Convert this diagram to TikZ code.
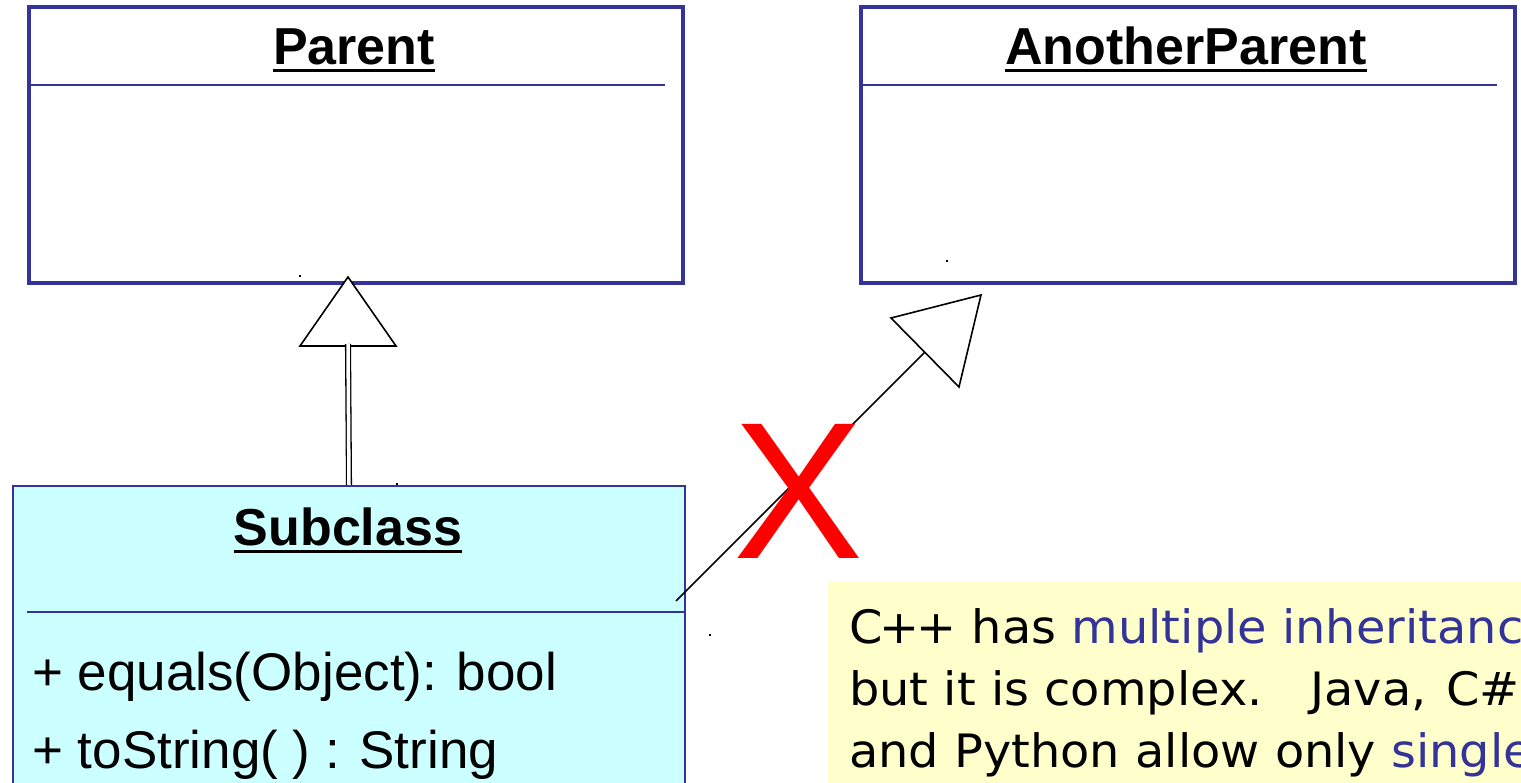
\documentclass[tikz,border=0pt]{standalone}
\usepackage{fontspec}
\setmainfont{Liberation Sans}
\newfontfamily\notefont[FakeStretch=1.04]{DejaVu Sans}
\definecolor{umlblue}{HTML}{333399}
\definecolor{classfill}{HTML}{CCFFFF}
\definecolor{notefill}{HTML}{FFFFCC}
\tikzset{
  classbox/.style={draw=umlblue, line width=3.6pt, inner sep=0pt, anchor=north west},
  subbox/.style={classbox, line width=2pt, fill=classfill},
  divider/.style={draw=umlblue, line width=2.2pt},
  classtitle/.style={font=\fontsize{52}{52}\selectfont\bfseries, inner sep=0pt, anchor=base},
  uline/.style={line width=3pt},
  member/.style={font=\fontsize{53}{53}\selectfont, inner sep=0pt, anchor=base west},
  notebox/.style={fill=notefill, inner sep=0pt, anchor=north west},
  noteline/.style={font=\notefont\fontsize{46}{46}\selectfont, inner sep=0pt, anchor=base west},
  shaft/.style={draw=black, double=white, double distance=3.5pt, line width=1.3pt},
  hollowtip/.style={draw=black, fill=white, line width=1.6pt, line join=miter},
  plainline/.style={draw=black, line width=1.6pt},
  crossmark/.style={text=red, font=\fontsize{195}{195}\selectfont, inner sep=0pt, anchor=base},
  speck/.style={fill=black}
}
\begin{document}
\begin{tikzpicture}[x=1pt, y=-1pt]
\useasboundingbox (0,0) rectangle (1521,783);
\clip (0,0) rectangle (1521,783);

% superclass boxes
\node[classbox, minimum width=654pt, minimum height=276pt] (parent) at (27,5) {};
\draw[divider] ([yshift=-80pt]parent.north west) -- ++(638pt,0);
\node[classtitle] (ptitle) at (354,65) {Parent};
\draw[uline] ([yshift=-6pt]ptitle.base west) -- ([yshift=-6pt]ptitle.base east);

\node[classbox, minimum width=654pt, minimum height=276pt] (another) at (859,5) {};
\draw[divider] ([yshift=-80pt]another.north west) -- ++(638pt,0);
\node[classtitle] (atitle) at (1186,65) {AnotherParent};
\draw[uline] ([yshift=-6pt]atitle.base west) -- ([yshift=-6pt]atitle.base east);

% subclass box
\node[subbox, minimum width=672pt, minimum height=400pt] (subclass) at (12,485) {};
\draw[divider] ([yshift=-127pt,xshift=15pt]subclass.north west) -- ([yshift=-127pt]subclass.north east);
\node[classtitle] (stitle) at (348,545) {Subclass};
\draw[uline] ([yshift=-6pt]stitle.base west) -- ([yshift=-6pt]stitle.base east);
\node[member] (m1) at (32,690) {+ equals(Object): bool};
\node[member] (m2) at (32,768) {+ toString( ) : String};

% note
\node[notebox, minimum width=800pt, minimum height=300pt] (note) at (828,582) {};
\node[noteline] (n1) at (849,643) {C\kern-3pt+\kern-3pt+ has \textcolor{umlblue}{multiple inheritance}};
\node[noteline] (n2) at (849,705) {but it is complex.\hspace{48pt}Java,\hspace{4pt} C\#};
\node[noteline] (n3) at (849,767) {and Python allow only \textcolor{umlblue}{single}};

% allowed generalization: Subclass -> Parent
\coordinate (tipP) at (348,277);
\coordinate (baseP) at (348,346);
\draw[hollowtip] (tipP) -- (300,346) -- (396,346) -- cycle;
\draw[shaft] (subclass.north) -- ([yshift=2pt]baseP);

% rejected generalization: Subclass -> AnotherParent
\coordinate (stub) at (676,601);
\coordinate (baseQ) at (925,352);
\coordinate (tipQ) at (981,295);
\draw[plainline] (stub) -- (baseQ);
\draw[hollowtip] (tipQ) -- (891,318) -- (959,387) -- cycle;
\node[crossmark] (cross) at (798.5,558) {X};

% stray specks
\fill[speck] (299,275) rectangle (301,277);
\fill[speck] (946,260) rectangle (948,262);
\fill[speck] (396,483) rectangle (398,485);
\fill[speck] (709,634) rectangle (711,636);
\end{tikzpicture}
\end{document}
